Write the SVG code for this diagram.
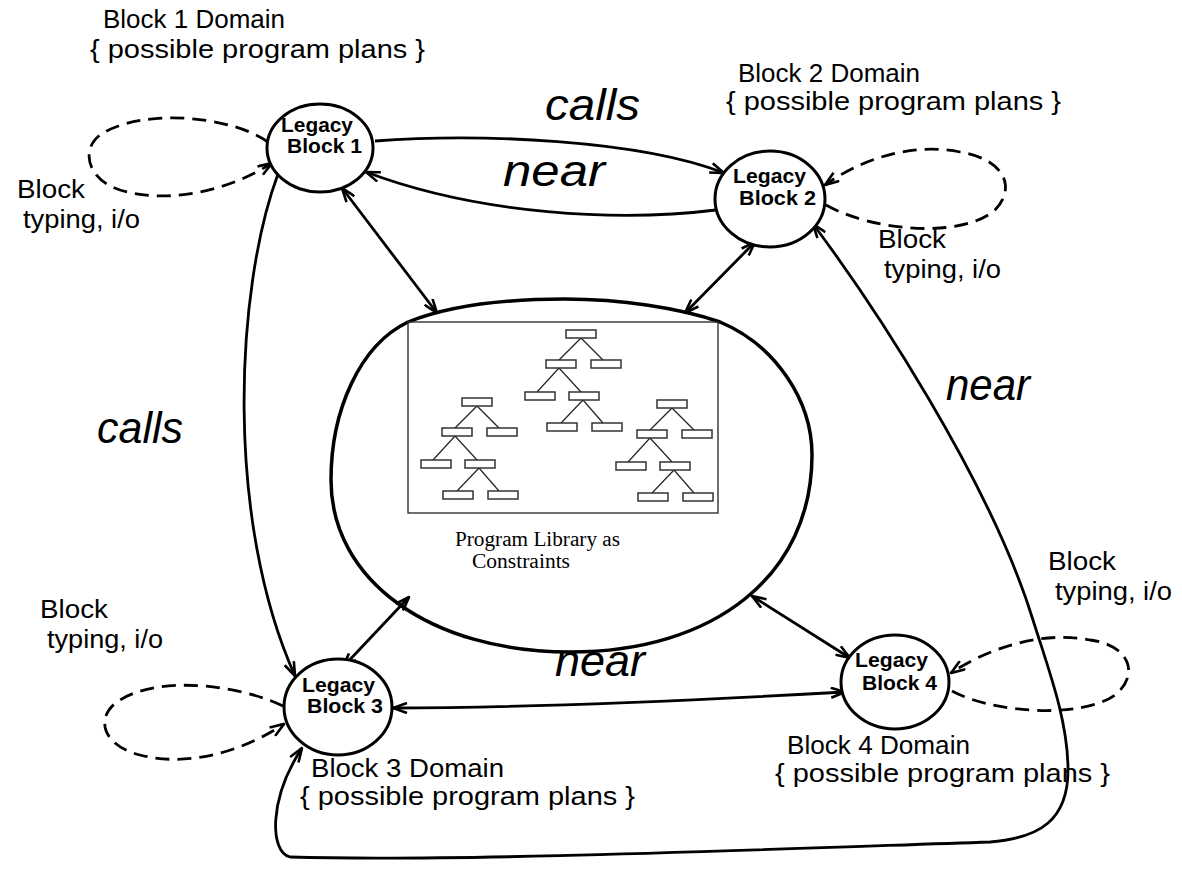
<svg xmlns="http://www.w3.org/2000/svg" xmlns:xlink="http://www.w3.org/1999/xlink" width="1182" height="888" viewBox="0 0 1182 888">
<style>
.node{fill:#fff;stroke:#000;stroke-width:3}
.nl{font-family:"Liberation Sans",Arial,sans-serif;font-weight:bold;font-size:20px;fill:#000}
.lb{font-family:"Liberation Sans",Arial,sans-serif;font-size:25px;fill:#000}
.it{font-family:"Liberation Sans",Arial,sans-serif;font-style:italic;font-size:44px;fill:#000}
.sf{font-family:"Liberation Serif","Times New Roman",serif;font-size:20px;fill:#000}
.e{fill:none;stroke:#000;stroke-width:2.8}
.d{fill:none;stroke:#000;stroke-width:2.8;stroke-dasharray:14 8}
.bx{fill:#fff;stroke:#333;stroke-width:1.5}
.tl{stroke:#222;stroke-width:1.2}
</style>
<defs>
<marker id="ah" viewBox="0 0 16 12" refX="15" refY="6" markerWidth="16" markerHeight="12" orient="auto-start-reverse" markerUnits="userSpaceOnUse">
<path d="M1,1 L15,6 L1,11" fill="none" stroke="#000" stroke-width="2.6"/>
</marker>
<g id="tree">
<line class="tl" x1="15" y1="8" x2="-7" y2="30"/>
<line class="tl" x1="15" y1="8" x2="37" y2="30"/>
<line class="tl" x1="-7" y1="38" x2="-29" y2="62"/>
<line class="tl" x1="-7" y1="38" x2="15" y2="62"/>
<line class="tl" x1="17" y1="70" x2="-5" y2="93"/>
<line class="tl" x1="17" y1="70" x2="37" y2="93"/>
<rect class="bx" x="0" y="0" width="30" height="8"/>
<rect class="bx" x="-20" y="30" width="30" height="8"/>
<rect class="bx" x="25" y="30" width="30" height="8"/>
<rect class="bx" x="-41" y="62" width="30" height="8"/>
<rect class="bx" x="3" y="62" width="30" height="8"/>
<rect class="bx" x="-19" y="93" width="30" height="8"/>
<rect class="bx" x="26" y="93" width="30" height="8"/>
</g>
</defs>
<rect width="1182" height="888" fill="#fff"/>

<g id="library">
<path d="M331,480 C331,410 360,345 408,322 C450,305 510,299 565,299 C620,299 680,308 720,322 C775,345 812,400 812,455 C812,575 715,652 570,652 C430,652 331,580 331,480 Z" fill="#fff" stroke="#000" stroke-width="3.5"/>
<rect x="408" y="322" width="310" height="191" fill="none" stroke="#333" stroke-width="1.4"/>
<use xlink:href="#tree" x="566" y="330"/>
<use xlink:href="#tree" x="462" y="398"/>
<use xlink:href="#tree" x="657" y="400"/>
<text class="sf" x="455" y="546" textLength="165" lengthAdjust="spacingAndGlyphs">Program Library as</text>
<text class="sf" x="472" y="568" textLength="98" lengthAdjust="spacingAndGlyphs">Constraints</text>
</g>

<g id="connectors">
<path class="d" d="M268,142 C230,115 140,108 100,135 C80,150 88,180 120,190 C170,205 230,190 272,163" marker-end="url(#ah)"/>
<path class="d" d="M826,205 C870,230 960,240 995,210 C1015,190 1008,160 960,152 C910,142 860,160 825,185" marker-end="url(#ah)"/>
<path class="d" d="M283,706 C240,685 160,675 120,700 C95,715 100,745 140,755 C190,768 245,750 284,724" marker-end="url(#ah)"/>
<path class="d" d="M952,691 C990,712 1080,720 1115,695 C1140,675 1130,645 1090,640 C1040,630 985,650 951,673" marker-end="url(#ah)"/>
<path class="e" d="M375,141 C480,133 640,140 724,173" marker-end="url(#ah)"/>
<path class="e" d="M716,210 C620,222 480,215 366,172" marker-end="url(#ah)"/>
<line class="e" x1="342" y1="188" x2="437" y2="313" marker-start="url(#ah)" marker-end="url(#ah)"/>
<line class="e" x1="755" y1="242" x2="685" y2="313" marker-start="url(#ah)" marker-end="url(#ah)"/>
<line class="e" x1="343" y1="667" x2="409" y2="597" marker-start="url(#ah)" marker-end="url(#ah)"/>
<line class="e" x1="752" y1="596" x2="850" y2="658" marker-start="url(#ah)" marker-end="url(#ah)"/>
<path class="e" d="M278,174 C235,290 225,520 295,676" marker-end="url(#ah)"/>
<path class="e" d="M393,708 C520,708 700,700 845,692" marker-start="url(#ah)" marker-end="url(#ah)"/>
<path class="e" d="M813,224 C870,300 990,480 1033,620 C1048,668 1068,720 1068,770 C1068,820 1040,838 990,842 C750,850 450,862 290,857 C270,852 268,800 302,748" marker-start="url(#ah)" marker-end="url(#ah)"/>
</g>

<g id="node1">
<ellipse class="node" cx="320" cy="148" rx="53" ry="44"/>
<text class="nl" x="281" y="132" textLength="72" lengthAdjust="spacingAndGlyphs">Legacy</text>
<text class="nl" x="287" y="153" textLength="75" lengthAdjust="spacingAndGlyphs">Block 1</text>
</g>
<g id="node2">
<ellipse class="node" cx="770" cy="199" rx="55" ry="48"/>
<text class="nl" x="733" y="183" textLength="73" lengthAdjust="spacingAndGlyphs">Legacy</text>
<text class="nl" x="739" y="205" textLength="77" lengthAdjust="spacingAndGlyphs">Block 2</text>
</g>
<g id="node3">
<ellipse class="node" cx="338" cy="707" rx="54" ry="48"/>
<text class="nl" x="302" y="692" textLength="73" lengthAdjust="spacingAndGlyphs">Legacy</text>
<text class="nl" x="307" y="713" textLength="76" lengthAdjust="spacingAndGlyphs">Block 3</text>
</g>
<g id="node4">
<ellipse class="node" cx="895" cy="682" rx="54" ry="47"/>
<text class="nl" x="855" y="667" textLength="73" lengthAdjust="spacingAndGlyphs">Legacy</text>
<text class="nl" x="862" y="690" textLength="75" lengthAdjust="spacingAndGlyphs">Block 4</text>
</g>

<g id="labels">
<text class="lb" x="103" y="28" textLength="182" lengthAdjust="spacingAndGlyphs">Block 1 Domain</text>
<text class="lb" x="90" y="58" textLength="335" lengthAdjust="spacingAndGlyphs">{ possible program plans }</text>
<text class="lb" x="738" y="82" textLength="182" lengthAdjust="spacingAndGlyphs">Block 2 Domain</text>
<text class="lb" x="726" y="110" textLength="335" lengthAdjust="spacingAndGlyphs">{ possible program plans }</text>
<text class="lb" x="787" y="754" textLength="183" lengthAdjust="spacingAndGlyphs">Block 4 Domain</text>
<text class="lb" x="775" y="782" textLength="335" lengthAdjust="spacingAndGlyphs">{ possible program plans }</text>
<text class="lb" x="311" y="777" textLength="193" lengthAdjust="spacingAndGlyphs">Block 3 Domain</text>
<text class="lb" x="300" y="805" textLength="335" lengthAdjust="spacingAndGlyphs">{ possible program plans }</text>
<text class="lb" x="17" y="198" textLength="68" lengthAdjust="spacingAndGlyphs">Block</text>
<text class="lb" x="23" y="228" textLength="117" lengthAdjust="spacingAndGlyphs">typing, i/o</text>
<text class="lb" x="878" y="248" textLength="68" lengthAdjust="spacingAndGlyphs">Block</text>
<text class="lb" x="884" y="278" textLength="117" lengthAdjust="spacingAndGlyphs">typing, i/o</text>
<text class="lb" x="40" y="618" textLength="68" lengthAdjust="spacingAndGlyphs">Block</text>
<text class="lb" x="47" y="648" textLength="116" lengthAdjust="spacingAndGlyphs">typing, i/o</text>
<text class="lb" x="1048" y="570" textLength="68" lengthAdjust="spacingAndGlyphs">Block</text>
<text class="lb" x="1055" y="600" textLength="117" lengthAdjust="spacingAndGlyphs">typing, i/o</text>
<text class="it" x="545" y="120" textLength="95" lengthAdjust="spacingAndGlyphs">calls</text>
<text class="it" x="503" y="186" textLength="102" lengthAdjust="spacingAndGlyphs">near</text>
<text class="it" x="946" y="400" font-size="40" textLength="84" lengthAdjust="spacingAndGlyphs">near</text>
<text class="it" x="97" y="443" font-size="40" textLength="86" lengthAdjust="spacingAndGlyphs">calls</text>
<text class="it" x="555" y="676" font-size="42" textLength="90" lengthAdjust="spacingAndGlyphs">near</text>
</g>
</svg>
